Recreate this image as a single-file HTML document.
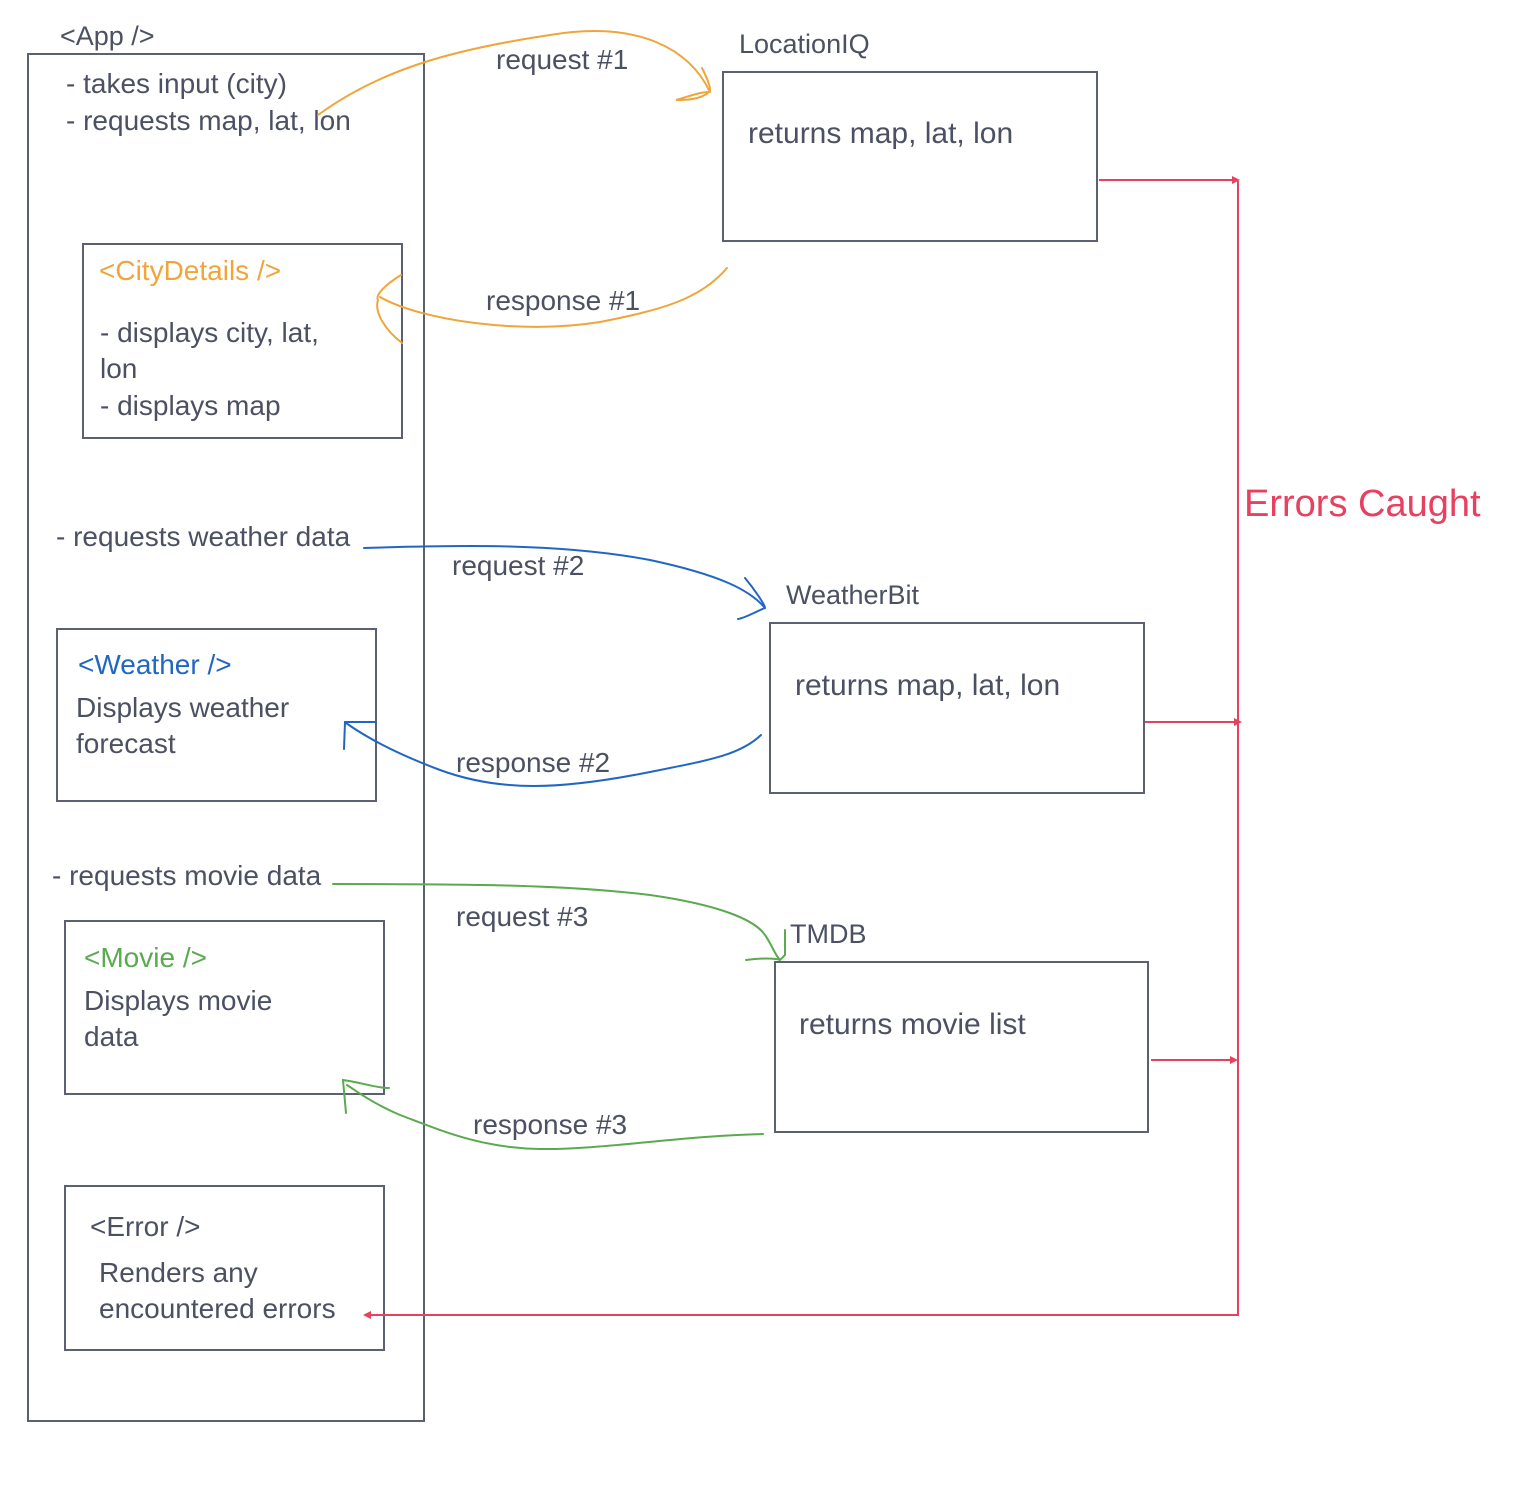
<!DOCTYPE html>
<html><head><meta charset="utf-8"><style>
html,body{margin:0;padding:0;background:#fff}
svg{display:block}
text{font-family:"Liberation Sans","DejaVu Sans",sans-serif;fill:#4b5162}
</style></head><body>
<svg width="1538" height="1486" viewBox="0 0 1538 1486" xmlns="http://www.w3.org/2000/svg">
<g fill="none" stroke="#5b6072" stroke-width="2">
<rect x="28" y="54" width="396" height="1367"/>
<rect x="83" y="244" width="319" height="194"/>
<rect x="57" y="629" width="319" height="172"/>
<rect x="65" y="921" width="319" height="173"/>
<rect x="65" y="1186" width="319" height="164"/>
<rect x="723" y="72" width="374" height="169"/>
<rect x="770" y="623" width="374" height="170"/>
<rect x="775" y="962" width="373" height="170"/>
</g>
<g font-size="27">
<text x="60" y="45">&lt;App /&gt;</text>
<text x="739" y="53">LocationIQ</text>
<text x="786" y="604">WeatherBit</text>
<text x="790" y="943">TMDB</text>
</g>
<g font-size="28">
<text x="66" y="93">- takes input (city)</text>
<text x="66" y="130">- requests map, lat, lon</text>
<text x="99" y="280" style="fill:#f0a53a">&lt;CityDetails /&gt;</text>
<text x="100" y="342">- displays city, lat,</text>
<text x="100" y="378">lon</text>
<text x="100" y="415">- displays map</text>
<text x="56" y="546">- requests weather data</text>
<text x="78" y="674" style="fill:#2266c4">&lt;Weather /&gt;</text>
<text x="76" y="717">Displays weather</text>
<text x="76" y="753">forecast</text>
<text x="52" y="885">- requests movie data</text>
<text x="84" y="967" style="fill:#5aaa4e">&lt;Movie /&gt;</text>
<text x="84" y="1010">Displays movie</text>
<text x="84" y="1046">data</text>
<text x="90" y="1236">&lt;Error /&gt;</text>
<text x="99" y="1282">Renders any</text>
<text x="99" y="1318">encountered errors</text>
<text x="496" y="69">request #1</text>
<text x="486" y="310">response #1</text>
<text x="452" y="575">request #2</text>
<text x="456" y="772">response #2</text>
<text x="456" y="926">request #3</text>
<text x="473" y="1134">response #3</text>
</g>
<g font-size="30">
<text x="748" y="143">returns map, lat, lon</text>
<text x="795" y="695">returns map, lat, lon</text>
<text x="799" y="1034">returns movie list</text>
</g>
<text x="1244" y="516" font-size="38" style="fill:#e8405f">Errors Caught</text>
<!-- orange -->
<g fill="none" stroke="#f0a53a" stroke-width="2" stroke-linecap="round">
<path d="M318 115 C380 70 450 50 550 35 C640 20 690 50 710 92"/>
<path d="M702 68 C708 80 712 90 709 92 C700 100 685 100 676 100 C690 96 700 92 709 92"/>
<path d="M727 268 C700 300 660 310 600 322 C520 335 420 320 380 297"/>
<path d="M401 275 C385 285 375 295 378 300 C374 312 385 330 402 343"/>
</g>
<!-- blue -->
<g fill="none" stroke="#2266c4" stroke-width="2" stroke-linecap="round">
<path d="M364 548 C460 545 560 543 650 560 C720 575 750 590 765 608"/>
<path d="M745 578 C755 590 765 605 765 608 C755 612 745 618 738 619"/>
<path d="M761 735 C740 755 710 760 650 772 C560 790 500 792 440 770 C400 755 370 740 346 723"/>
<path d="M344 749 L345 722 L376 722"/>
</g>
<!-- green -->
<g fill="none" stroke="#5aaa4e" stroke-width="2" stroke-linecap="round">
<path d="M333 884 C450 884 560 884 650 895 C720 905 755 920 765 935 C772 945 775 955 780 960"/>
<path d="M746 960 C760 958 775 958 780 960 L785 955 L785 930"/>
<path d="M763 1134 C680 1136 600 1150 540 1149 C480 1148 440 1130 400 1115 C370 1102 355 1090 347 1085"/>
<path d="M346 1113 L343 1080 C360 1082 375 1088 389 1088"/>
</g>
<!-- red -->
<g fill="none" stroke="#e8405f" stroke-width="2">
<path d="M1238 181 L1238 1315 L368 1315"/>
<path d="M1099 180 L1236 180"/>
<path d="M1145 722 L1238 722"/>
<path d="M1151 1060 L1236 1060"/>
</g>
<g fill="#e8405f">
<path d="M1240 180 l-8 -4 l0 8 z"/>
<path d="M1242 722 l-8 -4 l0 8 z"/>
<path d="M1238 1060 l-8 -4 l0 8 z"/>
<path d="M363 1315 l8 -4 l0 8 z"/>
</g>
</svg>
</body></html>
